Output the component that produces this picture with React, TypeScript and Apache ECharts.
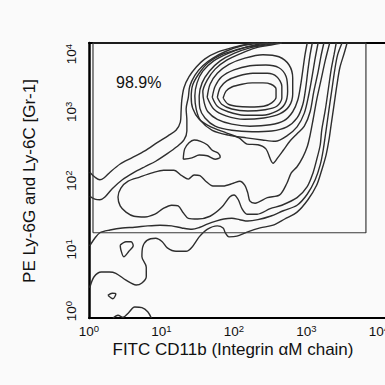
import React, { useEffect, useRef } from "react";
import * as echarts from "echarts";

// All coordinates are log10 fluorescence intensities (decades).
// X: FITC CD11b, Y: PE Ly-6G/Ly-6C.
const xTicks = [0, 1, 2, 3, 4];
const yTicks = [0, 1, 2, 3, 4];
const xMax = 4.083;
const yMax = 4;

const gateLabel = "98.9%";
const gateX = [0.055, 3.82];
const gateY = [1.24, 4];

// Contour lines (traced, innermost first)
const ring10 = [[1.85,3.20],[1.89,3.30],[1.97,3.36],[2.11,3.40],[2.25,3.42],[2.40,3.42],[2.51,3.40],[2.58,3.33],[2.58,3.21],[2.52,3.13],[2.41,3.08],[2.22,3.07],[2.03,3.08],[1.92,3.11],[1.85,3.20]];
const ring9 = [[1.77,3.21],[1.81,3.35],[1.90,3.45],[2.06,3.52],[2.26,3.56],[2.46,3.56],[2.59,3.51],[2.66,3.37],[2.66,3.20],[2.59,3.08],[2.43,3.03],[2.19,3.01],[1.97,3.04],[1.83,3.11],[1.77,3.21]];
const ring8 = [[1.70,3.21],[1.74,3.37],[1.83,3.51],[2.00,3.61],[2.22,3.67],[2.44,3.68],[2.62,3.64],[2.72,3.51],[2.74,3.30],[2.70,3.11],[2.59,3.01],[2.39,2.95],[2.14,2.95],[1.92,3.00],[1.77,3.08],[1.70,3.21]];
const ring7 = [[1.63,3.21],[1.67,3.40],[1.77,3.56],[1.93,3.69],[2.15,3.78],[2.40,3.83],[2.62,3.80],[2.76,3.68],[2.81,3.49],[2.81,3.26],[2.76,3.08],[2.63,2.97],[2.41,2.91],[2.14,2.89],[1.89,2.94],[1.72,3.04],[1.63,3.21]];
const open6 = [[2.66,4],[2.51,3.97],[2.30,3.93],[2.10,3.85],[1.90,3.75],[1.74,3.62],[1.63,3.46],[1.57,3.29],[1.59,3.13],[1.64,3.00],[1.77,2.89],[1.97,2.82],[2.22,2.79],[2.50,2.81],[2.69,2.87],[2.81,3.00],[2.88,3.17],[2.92,3.39],[2.95,3.61],[2.98,3.83],[3.01,4]];
const open5 = [[2.61,4],[2.44,3.97],[2.22,3.93],[2.00,3.85],[1.81,3.74],[1.66,3.59],[1.56,3.42],[1.52,3.23],[1.53,3.05],[1.60,2.91],[1.74,2.79],[1.97,2.73],[2.25,2.71],[2.52,2.72],[2.73,2.78],[2.87,2.91],[2.95,3.11],[2.99,3.35],[3.02,3.61],[3.05,3.83],[3.08,4]];
const open4 = [[2.54,4],[2.36,3.97],[2.14,3.93],[1.92,3.85],[1.72,3.74],[1.57,3.59],[1.49,3.42],[1.46,3.23],[1.48,3.03],[1.54,2.87],[1.70,2.73],[1.92,2.66],[2.17,2.62],[2.39,2.59],[2.57,2.57],[2.73,2.65],[2.87,2.78],[2.97,2.98],[3.03,3.24],[3.08,3.53],[3.12,3.78],[3.16,4]];
const open3 = [[2.47,4],[2.28,3.97],[2.06,3.91],[1.83,3.83],[1.64,3.71],[1.52,3.56],[1.43,3.39],[1.41,3.21],[1.43,3.05],[1.52,2.89],[1.68,2.78],[1.90,2.69],[2.07,2.62],[2.18,2.53],[2.33,2.52],[2.44,2.46],[2.54,2.25],[2.61,2.34],[2.68,2.44],[2.77,2.57],[2.87,2.68],[2.97,2.79],[3.05,3.00],[3.10,3.29],[3.16,3.58],[3.20,3.81],[3.24,4]];
const upper2 = [[0.01,1.77],[0.08,1.73],[0.15,1.72],[0.22,1.76],[0.32,1.88],[0.46,2.01],[0.61,2.11],[0.77,2.20],[0.92,2.28],[1.08,2.39],[1.21,2.49],[1.31,2.59],[1.35,2.72],[1.35,2.88],[1.34,3.04],[1.37,3.21],[1.39,3.37],[1.46,3.53],[1.57,3.67],[1.71,3.78],[1.89,3.88],[2.11,3.96],[2.36,4]];
const upper1 = [[0.01,2.12],[0.08,2.05],[0.15,2.01],[0.21,2.04],[0.29,2.12],[0.43,2.24],[0.59,2.33],[0.77,2.43],[0.94,2.55],[1.09,2.65],[1.20,2.73],[1.26,2.85],[1.27,3.00],[1.28,3.17],[1.31,3.35],[1.38,3.51],[1.48,3.65],[1.60,3.77],[1.78,3.87],[2.00,3.94],[2.22,3.99],[2.30,4]];
const crescent = [[1.30,2.31],[1.32,2.46],[1.38,2.55],[1.45,2.59],[1.54,2.57],[1.63,2.52],[1.70,2.44],[1.78,2.40],[1.81,2.34],[1.74,2.31],[1.63,2.36],[1.52,2.37],[1.42,2.33],[1.30,2.31]];
const band3 = [[3.32,4],[3.26,3.75],[3.20,3.46],[3.14,3.17],[3.09,2.88],[3.05,2.66],[3.01,2.49],[2.95,2.34],[2.87,2.20],[2.79,2.11],[2.73,1.96],[2.63,1.79],[2.46,1.75],[2.29,1.67],[2.22,1.70],[2.19,1.82],[2.15,1.93],[2.08,1.99],[1.99,1.96],[1.85,1.92],[1.71,1.92],[1.61,1.99],[1.53,2.07],[1.45,2.08],[1.37,2.02],[1.28,2.07],[1.17,2.15],[1.03,2.15],[0.87,2.11],[0.70,2.05],[0.54,1.99],[0.44,1.89],[0.40,1.76],[0.43,1.63],[0.51,1.54],[0.62,1.48],[0.77,1.47],[0.91,1.51],[1.02,1.59],[1.14,1.64],[1.23,1.63],[1.30,1.53],[1.37,1.45],[1.50,1.44],[1.67,1.48],[1.83,1.61],[1.94,1.76],[2.00,1.79],[2.06,1.72],[2.11,1.59],[2.18,1.51],[2.32,1.51],[2.50,1.59],[2.66,1.64],[2.87,1.75],[3.01,1.91],[3.09,2.11],[3.14,2.30],[3.19,2.52],[3.21,2.73],[3.26,3.03],[3.30,3.32],[3.34,3.61],[3.38,3.83],[3.41,4]];
const lower2 = [[0.01,1.05],[0.08,1.16],[0.15,1.24],[0.29,1.28],[0.46,1.31],[0.63,1.32],[0.81,1.34],[0.98,1.35],[1.14,1.34],[1.28,1.31],[1.42,1.29],[1.53,1.32],[1.64,1.37],[1.75,1.41],[1.86,1.44],[1.97,1.45],[2.08,1.43],[2.19,1.41],[2.33,1.43],[2.50,1.48],[2.68,1.56],[2.87,1.64],[3.01,1.80],[3.12,2.01],[3.19,2.23],[3.23,2.44],[3.27,2.73],[3.31,3.03],[3.35,3.32],[3.39,3.61],[3.43,3.83],[3.49,4]];
const lower1 = [[0.01,0.44],[0.07,0.60],[0.17,0.67],[0.28,0.67],[0.37,0.65],[0.51,0.55],[0.65,0.48],[0.73,0.51],[0.79,0.60],[0.79,0.74],[0.73,0.89],[0.74,1.03],[0.80,1.13],[0.92,1.16],[1.01,1.11],[1.08,1.02],[1.20,0.97],[1.34,0.97],[1.42,1.03],[1.52,1.18],[1.63,1.29],[1.77,1.34],[1.85,1.31],[1.88,1.24],[1.93,1.18],[2.04,1.19],[2.18,1.25],[2.36,1.31],[2.54,1.35],[2.70,1.44],[2.87,1.54],[3.02,1.72],[3.14,1.93],[3.21,2.15],[3.27,2.37],[3.31,2.59],[3.34,2.81],[3.38,3.10],[3.42,3.39],[3.46,3.64],[3.52,3.85],[3.56,4]];
const islandA = [[0.43,1.06],[0.51,1.11],[0.58,1.11],[0.61,1.05],[0.55,0.97],[0.48,0.89],[0.44,0.99],[0.43,1.06]];
const islandB = [[0.26,0.33],[0.32,0.36],[0.37,0.35],[0.33,0.28],[0.26,0.33]];
const baseBump = [[0.33,0],[0.40,0.04],[0.47,0.01],[0.54,0.07],[0.63,0.16],[0.73,0.15],[0.81,0.09],[0.86,0]];

const contours = [ring10, ring9, ring8, ring7, open6, open5, open4, open3, upper2, upper1, crescent, band3, lower2, lower1, islandA, islandB, baseBump];

const FONT = "'Liberation Sans', Arial, Helvetica, sans-serif";
const TXT = "#111";

const isWhole = (v: number) => Math.abs(v - Math.round(v)) < 1e-6;

export default function App() {
  const ref = useRef<HTMLDivElement>(null);
  useEffect(() => {
    const chart = echarts.init(ref.current!, undefined, { renderer: "svg" });
    const gatePath = [
      [gateX[0], gateY[0]], [gateX[1], gateY[0]], [gateX[1], gateY[1]], [gateX[0], gateY[1]], [gateX[0], gateY[0]],
    ];
    const richBase = {
      b: { fontSize: 13.5, fontFamily: FONT, color: TXT, lineHeight: 12, verticalAlign: "bottom" },
      s: { fontSize: 9.5, fontFamily: FONT, color: TXT, lineHeight: 7, padding: [0, 0, 5, 0], verticalAlign: "bottom" },
    };
    const option: any = {
      animation: false,
      backgroundColor: "#fafafa",
      grid: { left: 89, top: 43, width: 296, height: 275 },
      xAxis: [
        {
          type: "value", min: 0, max: xMax, interval: 1, position: "bottom",
          axisLine: { show: true, onZero: false, lineStyle: { color: "#000", width: 2 } },
          axisTick: { show: false }, splitLine: { show: false },
          axisLabel: {
            margin: 8,
            formatter: (v: number) => (isWhole(v) && xTicks.includes(Math.round(v)) ? `{b|10}{s|${Math.round(v)}}` : ""),
            rich: richBase,
          },
        },
        {
          type: "value", min: 0, max: xMax, interval: 1, position: "top",
          axisLine: { show: true, onZero: false, lineStyle: { color: "#000", width: 2 } },
          axisTick: { show: false }, splitLine: { show: false }, axisLabel: { show: false },
        },
      ],
      yAxis: {
        type: "value", min: 0, max: yMax, interval: 1,
        axisLine: { show: true, onZero: false, lineStyle: { color: "#000", width: 2.5 } },
        axisTick: { show: false }, splitLine: { show: false },
        axisLabel: {
          rotate: 90, margin: 11,
          formatter: (v: number) => {
            if (!isWhole(v) || !yTicks.includes(Math.round(v))) return "";
            const n = Math.round(v);
            if (n === yMax) return `{b|10}{s4|${n}}`;
            if (n === 0) return `{b0|10}{s|${n}}`;
            return `{b|10}{s|${n}}`;
          },
          rich: {
            ...richBase,
            b0: { ...richBase.b, padding: [0, 0, 0, 14] },
            s4: { ...richBase.s, padding: [0, 22, 5, 0] },
          },
        },
      },
      series: [
        ...contours.map((pts) => ({
          type: "line", data: pts, xAxisIndex: 0, yAxisIndex: 0,
          showSymbol: false, smooth: 0.3, silent: true, clip: true,
          lineStyle: { color: "#2e2e2e", width: 1.4 },
        })),
        {
          type: "line", data: gatePath, showSymbol: false, silent: true, clip: false,
          lineStyle: { color: "#3a3a3a", width: 1.2 },
        },
      ],
      graphic: [
        { type: "text", left: 116, top: 74, style: { text: gateLabel, font: `16px ${FONT}`, fill: TXT } },
        { type: "text", x: 233, y: 349, style: { text: "FITC CD11b (Integrin \u03b1M chain)", font: `17px ${FONT}`, lineHeight: 15, fill: TXT, textAlign: "center", textVerticalAlign: "middle" } },
        { type: "text", x: 29, y: 181, rotation: Math.PI / 2, style: { text: "PE Ly-6G and Ly-6C [Gr-1]", font: `17px ${FONT}`, lineHeight: 15, fill: TXT, textAlign: "center", textVerticalAlign: "middle" } },
      ],
    };
    chart.setOption(option);
    return () => chart.dispose();
  }, []);
  return (
    <div style={{ position: "fixed", left: 0, top: 0, width: 385, height: 385, overflow: "hidden", background: "#fafafa" }}>
      <div ref={ref} style={{ width: 400, height: 385 }} />
    </div>
  );
}
